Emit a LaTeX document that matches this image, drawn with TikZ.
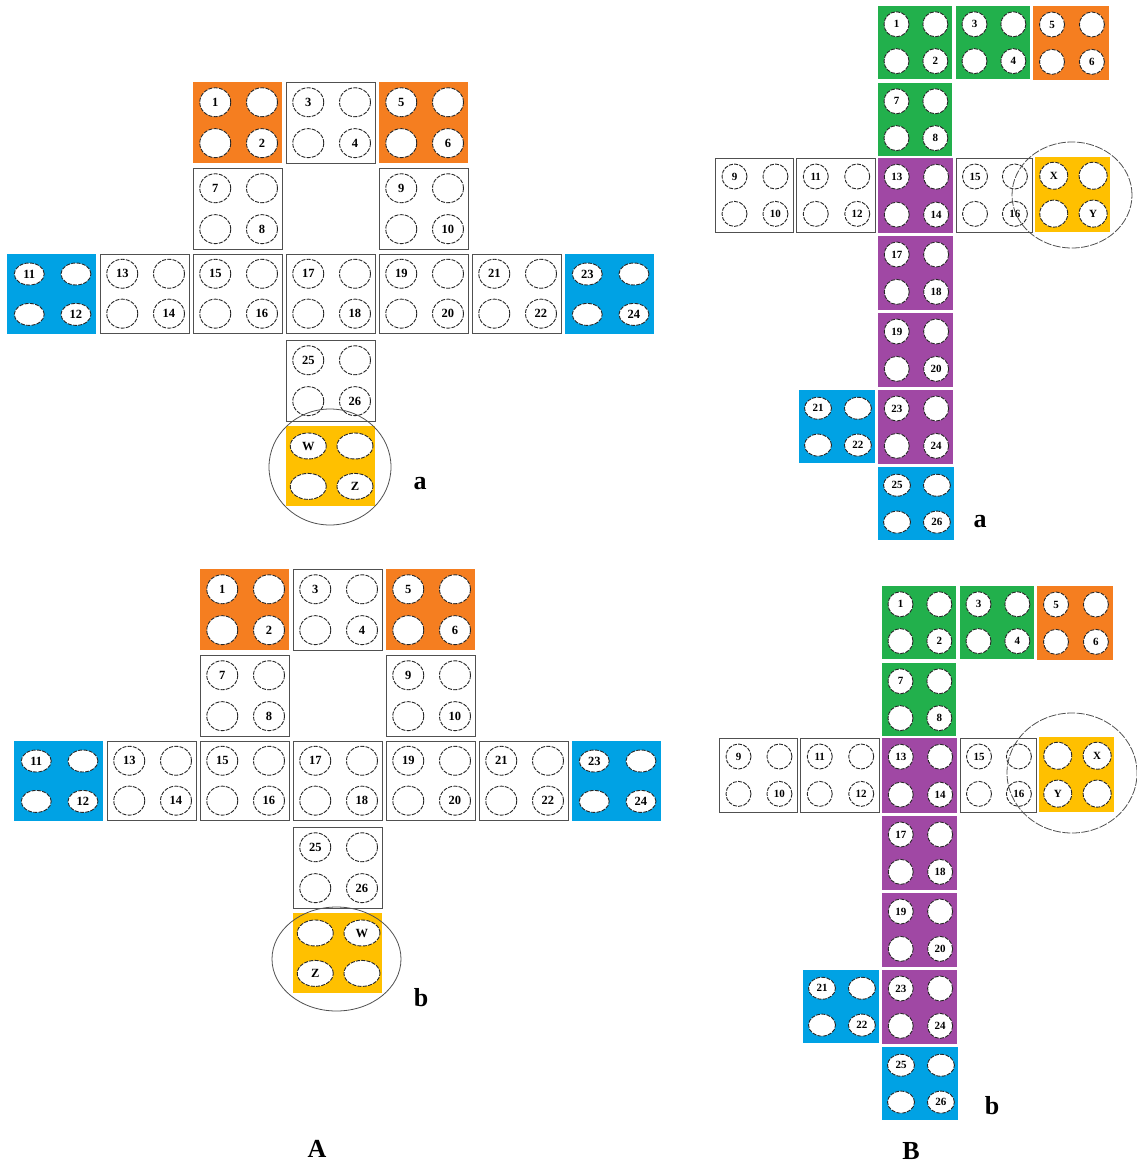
\documentclass[tikz,border=0pt]{standalone}
\usepackage{fontspec}
\setmainfont{Liberation Serif}
\usetikzlibrary{shapes.geometric}
\definecolor{cor}{RGB}{245,126,32}
\definecolor{cbl}{RGB}{0,162,228}
\definecolor{cgr}{RGB}{34,176,76}
\definecolor{cpu}{RGB}{160,72,164}
\definecolor{cye}{RGB}{255,192,0}
\definecolor{cln}{RGB}{80,80,80}
\tikzset{
 plate/.style={rectangle,inner sep=0pt,outer sep=0pt},
 pw/.style={plate,fill=white,draw=cln,line width=0.9pt},
 po/.style={plate,fill=cor},
 pb/.style={plate,fill=cbl},
 pg/.style={plate,fill=cgr},
 pp/.style={plate,fill=cpu},
 py/.style={plate,fill=cye},
 pit/.style={ellipse,inner sep=0pt,outer sep=0pt,fill=white,draw=black!85,line width=0.9pt,dash pattern=on 4pt off 1.3pt,font=\bfseries\fontsize{12.5}{12.5}\selectfont},
 hA/.style={minimum width=31pt,minimum height=29pt},
 hAb/.style={minimum width=30pt,minimum height=22pt},
 hAy/.style={minimum width=36pt,minimum height=26pt},
 hB/.style={minimum width=25pt,minimum height=25pt,font=\bfseries\fontsize{11}{11}\selectfont},
 hBb/.style={minimum width=27pt,minimum height=22pt,font=\bfseries\fontsize{11}{11}\selectfont},
 hBy/.style={minimum width=28pt,minimum height=27pt,font=\bfseries\fontsize{11}{11}\selectfont},
 bigring/.style={ellipse,draw=cln,line width=0.8pt,inner sep=0pt,outer sep=0pt},
 bigringd/.style={bigring,dash pattern=on 8pt off 1.5pt},
 plab/.style={font=\bfseries\fontsize{26}{26}\selectfont,inner sep=0pt},
}
\newcommand\platebase[6]{%
 \pgfmathsetmacro\pxa{#2+0.25*#4}\pgfmathsetmacro\pxb{#2+0.775*#4}%
 \pgfmathsetmacro\pya{#3+0.25*#5}\pgfmathsetmacro\pyb{#3+0.755*#5}%
 \pgfmathsetmacro\pcx{#2+#4/2}\pgfmathsetmacro\pcy{#3+#5/2}%
 \node[#6,minimum width=#4pt,minimum height=#5pt] (#1) at (\pcx,\pcy) {};}
\newcommand\plate[9]{%
 \platebase{#1}{#2}{#3}{#4}{#5}{#6}%
 \node[pit,#7] (#1tl) at (\pxa,\pya) {#8};
 \node[pit,#7] (#1tr) at (\pxb,\pya) {};
 \node[pit,#7] (#1bl) at (\pxa,\pyb) {};
 \node[pit,#7] (#1br) at (\pxb,\pyb) {#9};}
\newcommand\platex[9]{%
 \platebase{#1}{#2}{#3}{#4}{#5}{#6}%
 \node[pit,#7] (#1tl) at (\pxa,\pya) {};
 \node[pit,#7] (#1tr) at (\pxb,\pya) {#8};
 \node[pit,#7] (#1bl) at (\pxa,\pyb) {#9};
 \node[pit,#7] (#1br) at (\pxb,\pyb) {};}
\newcommand\panelA[1]{%
 \plate{#1p1}{193}{82}{89}{81}{po}{hA}{1}{2}
 \plate{#1p3}{286}{82}{89}{81}{pw}{hA}{3}{4}
 \plate{#1p5}{379}{82}{89}{81}{po}{hA}{5}{6}
 \plate{#1p7}{193}{168}{89}{81}{pw}{hA}{7}{8}
 \plate{#1p9}{379}{168}{89}{81}{pw}{hA}{9}{10}
 \plate{#1p11}{7}{254}{89}{80}{pb}{hAb}{11}{12}
 \plate{#1p13}{100}{254}{89}{79}{pw}{hA}{13}{14}
 \plate{#1p15}{193}{254}{89}{79}{pw}{hA}{15}{16}
 \plate{#1p17}{286}{254}{89}{79}{pw}{hA}{17}{18}
 \plate{#1p19}{379}{254}{89}{79}{pw}{hA}{19}{20}
 \plate{#1p21}{472}{254}{89}{79}{pw}{hA}{21}{22}
 \plate{#1p23}{565}{254}{89}{80}{pb}{hAb}{23}{24}
 \plate{#1p25}{286}{340}{89}{81}{pw}{hA}{25}{26}}
\newcommand\panelB[1]{%
 \plate{#1p1}{878}{6}{74}{73}{pg}{hB}{1}{2}
 \plate{#1p3}{956}{6}{74}{73}{pg}{hB}{3}{4}
 \plate{#1p5}{1033}{6}{76}{74}{po}{hB}{5}{6}
 \plate{#1p7}{878}{83}{74}{73}{pg}{hB}{7}{8}
 \plate{#1p9}{715}{158}{78}{74}{pw}{hB}{9}{10}
 \plate{#1p11}{796}{158}{79}{74}{pw}{hB}{11}{12}
 \plate{#1p13}{878}{158}{75}{75}{pp}{hB}{13}{14}
 \plate{#1p15}{956}{158}{76}{74}{pw}{hB}{15}{16}
 \plate{#1p17}{878}{236}{75}{74}{pp}{hB}{17}{18}
 \plate{#1p19}{878}{313}{75}{74}{pp}{hB}{19}{20}
 \plate{#1p21}{799}{390}{76}{73}{pb}{hBb}{21}{22}
 \plate{#1p23}{878}{390}{75}{74}{pp}{hB}{23}{24}
 \plate{#1p25}{878}{467}{76}{73}{pb}{hBb}{25}{26}}
\begin{document}
\begin{tikzpicture}[x=1pt,y=-1pt]
\useasboundingbox (0,0) rectangle (1136,1169);
% Panel A, a
\panelA{aa}
\plate{aaY}{286}{426}{89}{80}{py}{hAy}{W}{Z}
\node[bigring,minimum width=122pt,minimum height=116pt] (aaR) at (330,467) {};
\node[plab] (aaL) at (420,484) {a};
% Panel A, b
\begin{scope}[shift={(7,487)}]
\panelA{ab}
\platex{abY}{286}{426}{89}{80}{py}{hAy}{W}{Z}
\node[bigring,minimum width=129pt,minimum height=104pt] (abR) at (329.5,472) {};
\node[plab] (abL) at (414,511) {b};
\end{scope}
% Panel B, a
\panelB{ba}
\plate{baY}{1035}{157}{75}{75}{py}{hBy}{X}{Y}
\node[bigringd,minimum width=120pt,minimum height=106pt] (baR) at (1072,195) {};
\node[plab] (baL) at (980,522) {a};
% Panel B, b
\begin{scope}[shift={(4,580)}]
\panelB{bb}
\platex{bbY}{1035}{157}{75}{75}{py}{hBy}{X}{Y}
\node[bigringd,minimum width=130pt,minimum height=120pt] (bbR) at (1068,193) {};
\node[plab] (bbL) at (988,526) {b};
\end{scope}
\node[plab] (labA) at (317,1149) {A};
\node[plab] (labB) at (911,1151) {B};
\end{tikzpicture}
\end{document}
